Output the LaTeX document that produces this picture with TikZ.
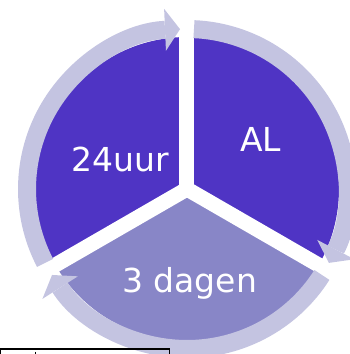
\documentclass[tikz,border=0pt]{standalone}
\usepackage{fontspec}
\setmainfont{DejaVu Sans}
\usetikzlibrary{arrows.meta}

\definecolor{sliceDark}{RGB}{79,52,196}
\definecolor{sliceLight}{RGB}{136,134,199}
\definecolor{ringColor}{RGB}{196,196,225}

\tikzset{
  slicelabel/.style={text=white, anchor=base, inner sep=0pt, font=\fontsize{33}{39}\selectfont},
  gapline/.style={draw=white, line width=15pt},
  ringarc/.style={draw=ringColor, line width=18pt,
    -{Triangle[length=15pt, width=42pt, line width=0pt]}}
}

\begin{document}
\begin{tikzpicture}[x=1pt, y=1pt]
		%% page size, centre of the pie at the origin
		\useasboundingbox (-187,-165) rectangle (163,189);
		\coordinate (ctr) at (0,0);
		%% the three slices
		\fill[sliceDark] (ctr) -- (90:152pt) arc[start angle=90, end angle=-30, radius=152pt] -- cycle;
		\fill[sliceDark] (ctr) -- (210:152pt) arc[start angle=210, end angle=90, radius=152pt] -- cycle;
		\fill[sliceLight] (ctr) -- (-30:152pt) arc[start angle=-30, end angle=-150, radius=152pt] -- cycle;
		%% white gaps between the slices
		\draw[gapline] (ctr) -- (90:160pt);
		\draw[gapline] (ctr) -- (210:160pt);
		\draw[gapline] (ctr) -- (330:160pt);
		%% the ring of arrows round the pie, clockwise
		\draw[ringarc] (207.5:160pt) arc[start angle=207.5, end angle=92.5, radius=160pt];
		\draw[ringarc] (87.5:160pt) arc[start angle=87.5, end angle=-27.5, radius=160pt];
		\draw[ringarc] (-32.5:160pt) arc[start angle=-32.5, end angle=-147.5, radius=160pt];
		%% labels
		\node[slicelabel] (uur) at (-67,17.3) {24uur};
		\node[slicelabel] (al) at (73.8,37.3) {AL};
		\node[slicelabel] (dagen) at (2.7,-103.3) {3 dagen};
		%% box at the bottom, cut off by the page
		\draw[line width=1.5pt] (-186.5,-180) |- (-17.5,-160) -- (-17.5,-180);
		\draw[line width=1.6pt] (-151.3,-162.8) -- (-151.3,-168);
	\end{tikzpicture}
\end{document}
